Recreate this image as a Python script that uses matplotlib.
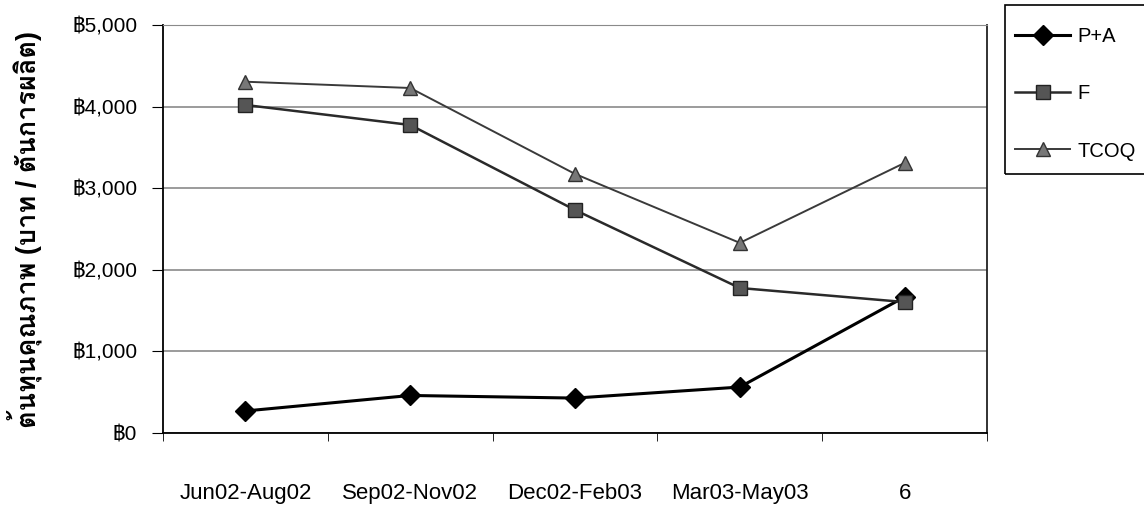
import matplotlib
matplotlib.use("Agg")
import matplotlib.pyplot as plt
from matplotlib import font_manager, ft2font
from matplotlib.patches import Rectangle
from matplotlib.ticker import FixedLocator, FuncFormatter

# data
periods = ['Jun02-Aug02', 'Sep02-Nov02', 'Dec02-Feb03', 'Mar03-May03', '6']
pa = [270, 460, 428, 563, 1667]
f = [4020, 3775, 2733, 1777, 1605]
tcoq = [4305, 4228, 3175, 2330, 3310]
y_ticks = [0, 1000, 2000, 3000, 4000, 5000]
y_title = 'ต้นทุนคุณภาพ (บาท / ตันการผลิต)'


def font_with(ch):
    # look for an installed font that has the glyph
    for fe in font_manager.fontManager.ttflist:
        try:
            ft = ft2font.FT2Font(fe.fname)
            if ord(ch) in ft.get_charmap():
                return fe.name
        except Exception:
            pass
    return 'DejaVu Sans'


thai_font = font_with('ต')
plt.rcParams['font.family'] = ['Liberation Sans', thai_font, 'DejaVu Sans']

W, H = 1144, 507
fig = plt.figure(figsize=(W / 100, H / 100), dpi=100)
ax = fig.add_axes([163 / W, 1 - 433 / H, (987 - 163) / W, (433 - 25) / H])

x = list(range(len(periods)))
ax.plot(x, pa, '-', color='black', lw=2.2, marker='D', ms=10,
        mfc='black', mec='black', label='P+A', zorder=3)
ax.plot(x, f, '-', color='#2a2a2a', lw=1.8, marker='s', ms=10,
        mfc='#555555', mec='#222222', label='F', zorder=3)
ax.plot(x, tcoq, '-', color='#3a3a3a', lw=1.4, marker='^', ms=10,
        mfc='#777777', mec='#333333', label='TCOQ', zorder=3)

ax.set_xlim(-0.5, len(periods) - 0.5)
ax.set_ylim(0, 5000)
ax.set_yticks(y_ticks)
ax.yaxis.set_major_formatter(FuncFormatter(lambda v, p: '฿{:,.0f}'.format(v)))
ax.yaxis.grid(True, color='#8a8a8a', lw=1.2)
ax.set_axisbelow(True)

ax.set_xticks(x)
ax.set_xticklabels(periods)
ax.xaxis.set_minor_locator(FixedLocator([i - 0.5 for i in range(len(periods) + 1)]))
ax.tick_params(axis='x', which='major', length=0, pad=36, labelsize=16)
ax.tick_params(axis='x', which='minor', length=6, direction='out', color='black')
ax.tick_params(axis='y', length=8, direction='out', labelsize=15, pad=10.5)

ax.spines['left'].set_color('black')
ax.spines['bottom'].set_color('black')
ax.spines['left'].set_linewidth(1.3)
ax.spines['bottom'].set_linewidth(1.3)
ax.spines['top'].set_color('#8a8a8a')
ax.spines['right'].set_color('#222222')
ax.spines['right'].set_linewidth(1.3)

ax.set_ylabel(y_title, fontsize=19.5, fontweight='bold', labelpad=21)

# legend box, cut off at the right edge as in the original
fig.patches.append(Rectangle((1005 / W, 1 - 174 / H), (W + 10 - 1005) / W, (174 - 5) / H,
                             transform=fig.transFigure, fill=False,
                             edgecolor='black', lw=1.2))
fig.legend(loc='upper left', bbox_to_anchor=(1015 / W, 1 - 27 / H),
           fontsize=14.5, frameon=False, handlelength=2.75, handletextpad=0.35,
           labelspacing=1.9, borderpad=0, borderaxespad=0)

fig.savefig('out.png', dpi=100)
